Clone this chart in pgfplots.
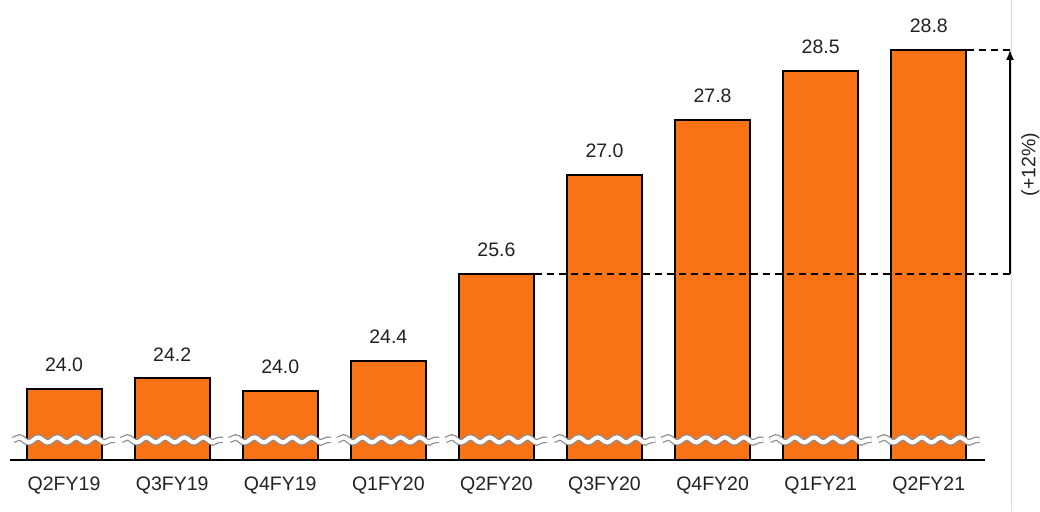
\documentclass[border=0pt]{standalone}
\usepackage{pgfplots}
\pgfplotsset{compat=1.18}
\usepackage{fontspec}
\setmainfont{Liberation Sans}
\usetikzlibrary{decorations.pathmorphing,arrows.meta}
\definecolor{barorange}{HTML}{F97316}
\definecolor{txt}{HTML}{222222}
\begin{document}
\begin{tikzpicture}[font=\fontsize{19.5}{23}\selectfont]
\path[use as bounding box] (-10pt,-51pt) rectangle (1030pt,460pt);
\draw[color=black!14, line width=1pt] (1001pt,-51pt) -- (1001pt,460pt);
\begin{axis}[
    at={(0pt,0pt)}, anchor=south west,
    scale only axis, width=975pt, height=460pt,
    xmin=-0.5, xmax=8.52, ymin=22.943, ymax=29.514,
    axis x line=bottom, axis y line=none,
    x axis line style={-, line width=2pt, black},
    xtick={0,...,8},
    xticklabels={Q2FY19,Q3FY19,Q4FY19,Q1FY20,Q2FY20,Q3FY20,Q4FY20,Q1FY21,Q2FY21},
    major tick length=0pt,
    xticklabel style={anchor=north, inner sep=0pt, yshift=-17pt, text=txt},
    ybar, bar width=75pt, bar shift=0pt,
    clip mode=individual,
]
\addplot[fill=barorange, draw=black, line width=2pt,
    nodes near coords, point meta=explicit symbolic,
    every node near coord/.append style={anchor=south, inner sep=0pt, yshift=16pt, text=txt}]
    table[meta=label] {
x y label
0 23.96 24.0
1 24.11 24.2
2 23.93 24.0
3 24.36 24.4
4 25.60 25.6
5 27.02 27.0
6 27.80 27.8
7 28.50 28.5
8 28.80 28.8
};
\pgfplotsinvokeforeach{0,...,8}{
  \draw[black!45, line width=6.5pt, decorate, decoration={snake, segment length=19pt, amplitude=2.5pt}]
    (axis cs:#1-0.47,23.23) -- (axis cs:#1+0.47,23.23);
  \draw[white, line width=4pt, decorate, decoration={snake, segment length=19pt, amplitude=2.5pt}]
    (axis cs:#1-0.47,23.23) -- (axis cs:#1+0.47,23.23);
}
\draw[line width=2pt, dash pattern=on 7pt off 5pt] (axis cs:4.356,25.6) -- (axis cs:8.751,25.6);
\draw[line width=2pt, dash pattern=on 7pt off 5pt] (axis cs:8.356,28.8) -- (axis cs:8.751,28.8);
\draw[line width=1.5pt, -{Latex[length=10pt,width=8pt]}] (axis cs:8.751,25.6) -- (axis cs:8.751,28.8);
\node[rotate=90, text=txt] at (axis cs:8.94,27.16) {(+12\%)};
\end{axis}
\end{tikzpicture}
\end{document}
